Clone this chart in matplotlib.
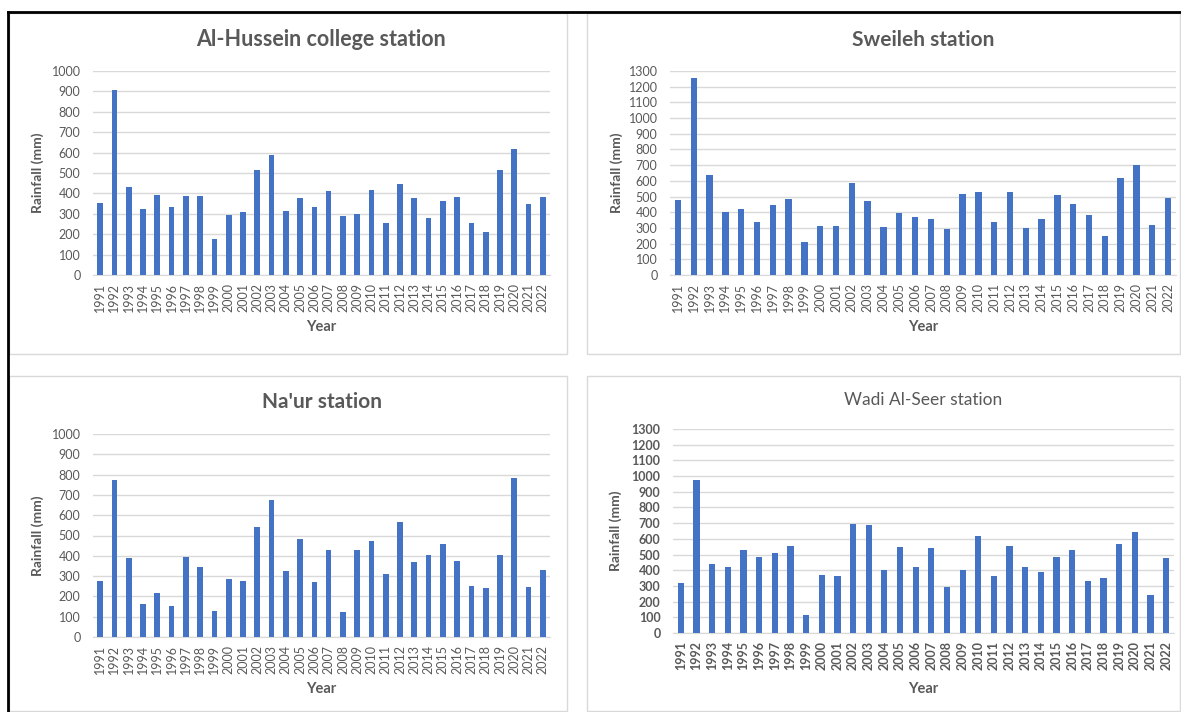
import matplotlib
matplotlib.use("Agg")
from matplotlib import pyplot as plt
from matplotlib.patches import Rectangle
from matplotlib.lines import Line2D

years = [str(y) for y in range(1991, 2023)]

al_hussein = [353, 907, 433, 324, 394, 332, 386, 389, 175, 296, 309, 516, 590, 312, 379, 335,
              410, 291, 299, 415, 255, 444, 376, 279, 361, 381, 253, 211, 516, 619, 346, 382]
sweileh = [479, 1257, 636, 400, 421, 336, 445, 483, 213, 311, 311, 587, 474, 309, 394, 368,
           355, 294, 513, 532, 336, 532, 302, 355, 509, 451, 385, 251, 621, 698, 321, 489]
naur = [275, 772, 391, 165, 216, 151, 396, 347, 129, 285, 278, 542, 673, 326, 483, 270,
        427, 124, 427, 471, 311, 566, 370, 403, 460, 372, 249, 241, 403, 782, 245, 332]
wadi_al_seer = [318, 978, 442, 418, 531, 485, 512, 555, 113, 369, 365, 696, 689, 399, 546, 423,
                542, 295, 403, 619, 365, 557, 423, 391, 485, 531, 333, 350, 570, 642, 241, 476]

W, H = 1181, 712
BAR = "#4472C4"
GRID = "#D9D9D9"
TXT = "#595959"
plt.rcParams['font.family'] = ['Lato', 'DejaVu Sans']

fig = plt.figure(figsize=(W / 100, H / 100), dpi=100)


def frame(x0, y0, x1, y1):
    fig.add_artist(Rectangle((x0 / W, 1 - y1 / H), (x1 - x0) / W, (y1 - y0) / H,
                             transform=fig.transFigure, fill=False, edgecolor=GRID, lw=1))


frame(9, 13, 567, 354)
frame(587, 13, 1180, 354)
frame(9, 376, 567, 711)
frame(587, 376, 1180, 711)
fig.add_artist(Line2D([8 / W, 1], [1 - 12 / H, 1 - 12 / H], transform=fig.transFigure, color="black", lw=2))
fig.add_artist(Line2D([8 / W, 8 / W], [0, 1 - 12 / H], transform=fig.transFigure, color="black", lw=2))


def panel(values, title, left, right, top, bottom, ymax, title_y, ylab_x, year_y,
          bold_ticks=False, bold_title=True, title_size=15.5):
    ax = fig.add_axes([left / W, 1 - bottom / H, (right - left) / W, (bottom - top) / H])
    x = list(range(len(years)))
    ax.bar(x, values, width=0.4, color=BAR, zorder=3)
    ax.set_xlim(-0.5, len(years) - 0.5)
    ax.set_ylim(0, ymax)
    ax.set_yticks(range(0, ymax + 1, 100))
    ax.set_xticks(x)
    tw = 'bold' if bold_ticks else 'normal'
    ax.set_xticklabels(years, rotation=90, fontsize=9, color=TXT, fontweight=tw)
    ax.set_yticklabels([str(v) for v in range(0, ymax + 1, 100)], fontsize=9, color=TXT, fontweight=tw)
    ax.tick_params(axis='y', length=0, pad=9)
    ax.tick_params(axis='x', length=0, pad=5.5)
    ax.grid(axis='y', color=GRID, lw=1, zorder=0)
    for s in ['top', 'right', 'left']:
        ax.spines[s].set_visible(False)
    ax.spines['bottom'].set_color(GRID)
    ax.set_facecolor('none')
    cx = (left + right) / 2
    fig.text(cx / W, 1 - title_y / H, title, ha='center', va='center', fontsize=title_size,
             fontweight='bold' if bold_title else 'normal', color=TXT)
    fig.text(ylab_x / W, 1 - (top + bottom) / 2 / H, "Rainfall (mm)", rotation=90,
             ha='center', va='center', fontsize=10, fontweight='bold', color=TXT)
    fig.text(cx / W, 1 - year_y / H, "Year", ha='center', va='center', fontsize=10.5,
             fontweight='bold', color=TXT)
    return ax


panel(al_hussein, "Al-Hussein college station", 93, 550, 71, 275, 1000, 40, 38, 327)
panel(sweileh, "Sweileh station", 670, 1176, 71, 275, 1300, 40, 617, 327, title_size=15)
panel(naur, "Na'ur station", 93, 550, 434, 637, 1000, 402, 38, 689, title_size=15)
panel(wadi_al_seer, "Wadi Al-Seer station", 673, 1174, 429, 633, 1300, 400, 616, 689,
      bold_ticks=True, bold_title=False, title_size=12.5)

fig.savefig("out.png", dpi=100)
